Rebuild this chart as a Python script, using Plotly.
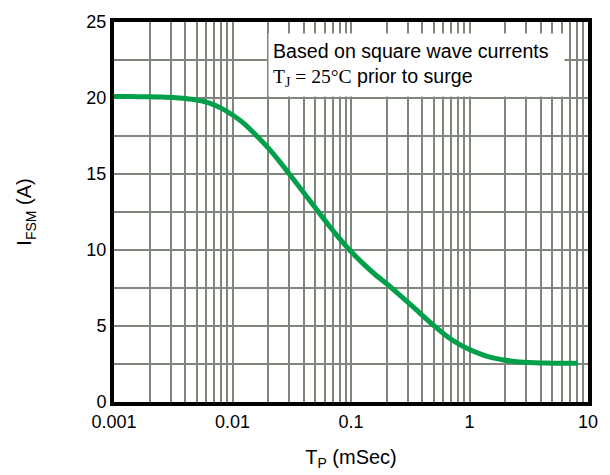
import plotly.graph_objects as go

# Curve data: pulse width (mSec) vs peak forward surge current (A)
tp_msec = [0.001, 0.00126, 0.00158, 0.002, 0.00251, 0.00316, 0.00398, 0.00501, 0.00631, 0.00794,
           0.01, 0.0126, 0.0158, 0.02, 0.0251, 0.0316, 0.0398, 0.0501, 0.0631, 0.0794,
           0.1, 0.126, 0.158, 0.2, 0.251, 0.316, 0.398, 0.501, 0.631, 0.794,
           1.0, 1.26, 1.58, 2.0, 2.51, 3.16, 3.98, 5.01, 6.31, 8.2]
ifsm_amp = [20.1, 20.1, 20.09, 20.08, 20.06, 20.03, 19.97, 19.87, 19.68, 19.35,
            18.88, 18.3, 17.55, 16.72, 15.8, 14.8, 13.78, 12.76, 11.75, 10.78,
            9.9, 9.12, 8.42, 7.78, 7.12, 6.43, 5.72, 5.02, 4.38, 3.86,
            3.45, 3.13, 2.9, 2.75, 2.65, 2.6, 2.57, 2.555, 2.55, 2.55]

# Axis ticks / grid
x_tick_vals = [0.001, 0.01, 0.1, 1, 10]
x_tick_text = ["0.001", "0.01", "0.1", "1", "10"]
x_minor_vals = [m * 10 ** e for e in (-3, -2, -1, 0) for m in range(2, 10)]
y_tick_vals = [0, 5, 10, 15, 20, 25]
y_tick_text = ["0", "5", "10", "15", "20", "25"]
y_minor_vals = [2.5, 7.5, 12.5, 17.5, 22.5]

note_line1 = "Based on square wave currents"
note_line2 = ("<span style='font-family:\"Liberation Serif\", \"Times New Roman\", serif'>"
              "T<sub>J</sub> = 25°C</span> prior to surge")

GRID = "#7f877c"
FONT = "Arial, 'Liberation Sans', sans-serif"

fig = go.Figure()
fig.add_trace(go.Scatter(
    x=tp_msec, y=ifsm_amp, mode="lines",
    line=dict(color="#00a04a", width=5, shape="spline", smoothing=0.8),
    showlegend=False, hoverinfo="skip",
))

fig.update_layout(
    width=602, height=467,
    margin=dict(l=106, r=22, t=4, b=73),
    paper_bgcolor="white", plot_bgcolor="white",
    font=dict(family=FONT, size=18, color="black"),
    xaxis=dict(
        type="log", range=[-3, 1],
        tickmode="array", tickvals=x_tick_vals, ticktext=x_tick_text,
        showgrid=True, gridcolor=GRID, gridwidth=2,
        minor=dict(tickmode="array", tickvals=x_minor_vals, showgrid=True,
                   gridcolor=GRID, gridwidth=2, ticks=""),
        showline=True, linecolor="black", linewidth=4, mirror=True,
        ticks="", zeroline=False, ticklabeloverflow="allow",
        tickfont=dict(size=18),
        title=dict(text="T<sub>P</sub> (mSec)", font=dict(size=20), standoff=20),
    ),
    yaxis=dict(
        range=[0, 25],
        tickmode="array", tickvals=y_tick_vals, ticktext=y_tick_text,
        showgrid=True, gridcolor=GRID, gridwidth=2,
        minor=dict(tickmode="array", tickvals=y_minor_vals, showgrid=True,
                   gridcolor=GRID, gridwidth=2, ticks=""),
        showline=True, linecolor="black", linewidth=4, mirror=True,
        ticks="", zeroline=False, ticklabeloverflow="allow",
        tickfont=dict(size=18),
        title=dict(text="I<sub>FSM</sub> (A)", font=dict(size=20), standoff=50),
    ),
    annotations=[dict(
        xref="paper", yref="paper", x=0.325, y=0.887,
        xanchor="left", yanchor="middle",
        text=note_line1 + "<br>" + note_line2,
        align="left", valign="middle",
        showarrow=False, bgcolor="white", borderpad=4,
        width=287, height=54,
        font=dict(family=FONT, size=19.6, color="black"),
    )],
)

fig.write_html("out.html")
